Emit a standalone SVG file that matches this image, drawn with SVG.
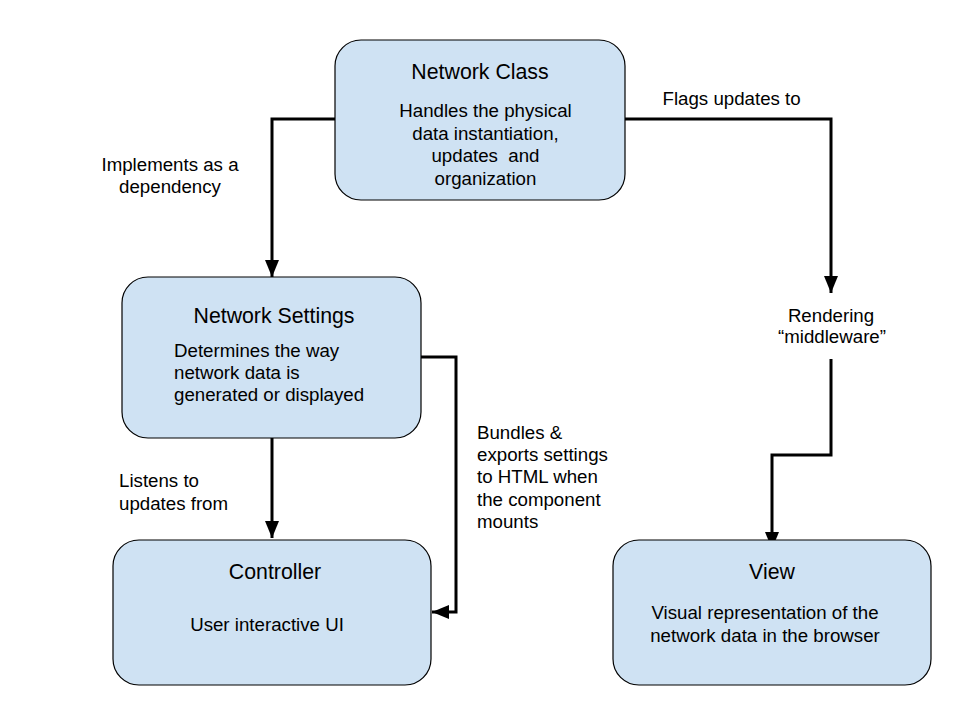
<svg xmlns="http://www.w3.org/2000/svg" width="960" height="720" viewBox="0 0 960 720">
<style>
.box{fill:#cfe2f3;stroke:#000;stroke-width:1.2}
.t{font-family:"Liberation Sans",Arial,sans-serif;fill:#000}
.title{font-size:21.3px;text-anchor:middle}
.body{font-size:18.7px}
.c{text-anchor:middle}
.conn{fill:none;stroke:#000;stroke-width:3}
</style>
<defs>
<marker id="arr" markerUnits="userSpaceOnUse" markerWidth="18" markerHeight="14" refX="17" refY="7" orient="auto">
<path d="M0,0 L17,7 L0,14 Z" fill="#000"/>
</marker>
</defs>
<rect width="960" height="720" fill="#fff"/>
<g id="connectors">
<path class="conn" d="M335,119 H272 V277" marker-end="url(#arr)"/>
<path class="conn" d="M625,119 H831 V293" marker-end="url(#arr)"/>
<path class="conn" d="M831,359 V455 H772 V549" marker-end="url(#arr)"/>
<path class="conn" d="M272,438 V538" marker-end="url(#arr)"/>
<path class="conn" d="M421,357 H456 V612 H432" marker-end="url(#arr)"/>
</g>
<g id="network-class">
<rect class="box" x="335" y="40" width="290" height="160" rx="26"/>
<text class="t title" x="480" y="79">Network Class</text>
<text class="t body c" x="485.5" y="117">Handles the physical</text>
<text class="t body c" x="485.5" y="139.5">data instantiation,</text>
<text class="t body c" x="485.5" y="162" xml:space="preserve">updates  and</text>
<text class="t body c" x="485.5" y="184.5">organization</text>
</g>
<g id="network-settings">
<rect class="box" x="122" y="277" width="299" height="161" rx="26"/>
<text class="t title" x="274" y="323">Network Settings</text>
<text class="t body" x="174" y="357">Determines the way</text>
<text class="t body" x="174" y="379">network data is</text>
<text class="t body" x="174" y="401">generated or displayed</text>
</g>
<g id="controller">
<rect class="box" x="113" y="540" width="318" height="145" rx="26"/>
<text class="t title" x="275" y="579">Controller</text>
<text class="t body c" x="267" y="630.5">User interactive UI</text>
</g>
<g id="view">
<rect class="box" x="613" y="540" width="318" height="145" rx="26"/>
<text class="t title" x="772" y="579">View</text>
<text class="t body c" x="765" y="619">Visual representation of the</text>
<text class="t body c" x="765" y="642">network data in the browser</text>
</g>
<g id="rendering-middleware">
<text class="t body c" x="831" y="322">Rendering</text>
<text class="t body c" x="832" y="343">“middleware”</text>
</g>
<g id="labels">
<text class="t body c" x="170" y="170.5">Implements as a</text>
<text class="t body c" x="170" y="192.5">dependency</text>
<text class="t body" x="662.5" y="105">Flags updates to</text>
<text class="t body" x="119" y="487">Listens to</text>
<text class="t body" x="119" y="510">updates from</text>
<text class="t body" x="477" y="439">Bundles &amp;</text>
<text class="t body" x="477" y="461.2">exports settings</text>
<text class="t body" x="477" y="483.4">to HTML when</text>
<text class="t body" x="477" y="505.6">the component</text>
<text class="t body" x="477" y="527.8">mounts</text>
</g>
</svg>
